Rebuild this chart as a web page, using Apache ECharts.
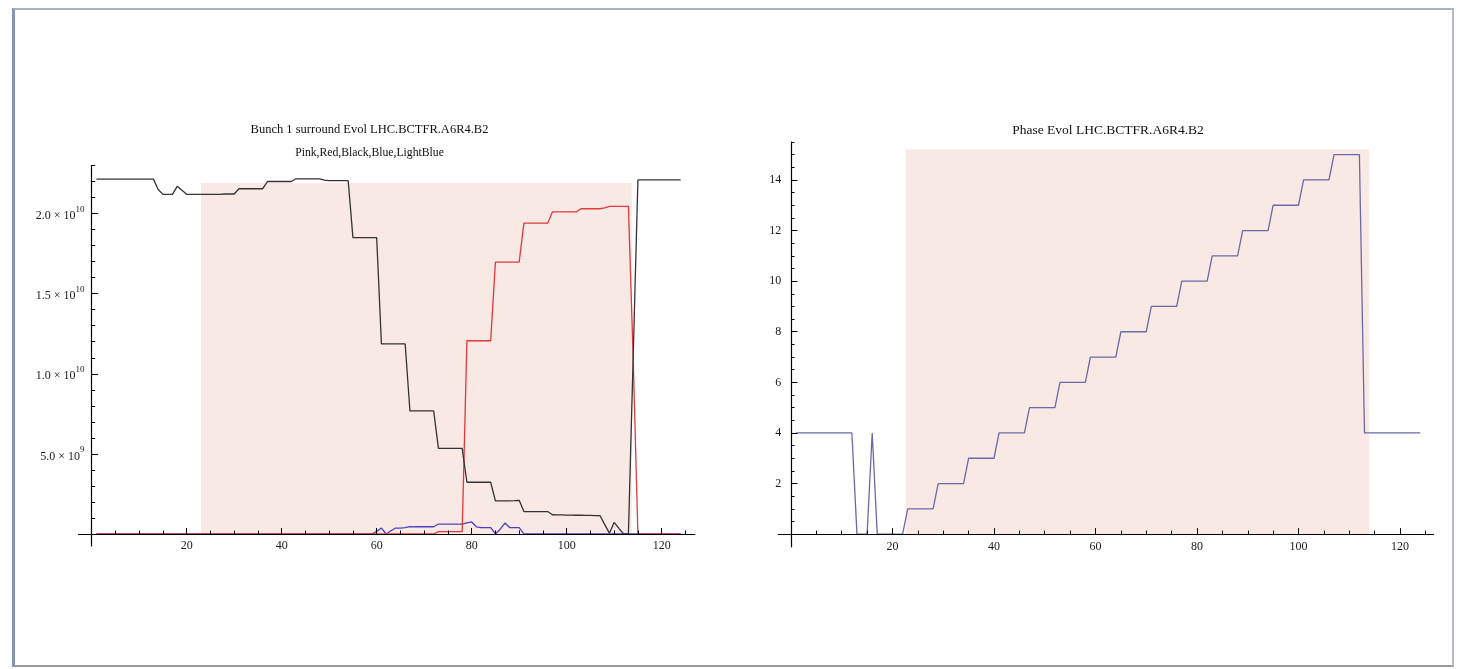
<!DOCTYPE html>
<html>
<head>
<meta charset="utf-8">
<script src="https://cdn.jsdelivr.net/npm/echarts@6/dist/echarts.min.js"></script>
<style>
  html, body { margin: 0; padding: 0; background: #fff; }
  #frame {
    position: absolute; left: 12px; top: 8px; width: 1437px; height: 655px;
    border-left: 3px solid #8594b3; border-top: 2px solid #a8b0c4;
    border-right: 2px solid #b7bbc7; border-bottom: 2px solid #9a9a9a;
  }
  #chart { position: absolute; left: 0; top: 0; width: 1457px; height: 669px; }
</style>
</head>
<body>
<div id="frame"></div>
<div id="chart"></div>
<script>
// sample index (1..124) shared by both panels
const steps = Array.from({ length: 124 }, (_, i) => i + 1);

// left panel, values in units of 1e9
const black = [
  22.15, 22.15, 22.15, 22.15, 22.15, 22.15, 22.15, 22.15, 22.15, 22.15, 22.15, 22.15, 22.15,
  21.5, 21.2, 21.2, 21.2, 21.7, 21.45, 21.2,
  21.2, 21.2, 21.2, 21.2, 21.2, 21.2, 21.2, 21.22, 21.22, 21.22,
  21.55, 21.55, 21.55, 21.55, 21.55, 21.55,
  22.0, 22.0, 22.0, 22.0, 22.0, 22.0,
  22.17, 22.17, 22.17, 22.17, 22.17, 22.17,
  22.09, 22.05, 22.05, 22.05, 22.05, 22.05,
  18.5, 18.5, 18.5, 18.5, 18.5, 18.5,
  11.86, 11.86, 11.86, 11.86, 11.86, 11.86,
  7.68, 7.68, 7.68, 7.68, 7.68, 7.68,
  5.34, 5.34, 5.34, 5.34, 5.34, 5.34,
  3.23, 3.23, 3.23, 3.23, 3.23, 3.23,
  2.07, 2.07, 2.07, 2.07, 2.08, 2.1,
  1.4, 1.4, 1.4, 1.4, 1.4, 1.4,
  1.2, 1.19, 1.19, 1.18, 1.18, 1.17, 1.17, 1.16, 1.16, 1.15, 1.15,
  0.6, 0.05, 0.72, 0.35, 0, 0,
  11,
  22.1, 22.1, 22.1, 22.1, 22.1, 22.1, 22.1, 22.1, 22.1, 22.1
];
const red = [
  0, 0, 0, 0, 0, 0, 0, 0, 0, 0, 0, 0, 0, 0, 0, 0, 0, 0, 0, 0, 0, 0, 0, 0,
  0, 0, 0, 0, 0, 0, 0, 0, 0, 0, 0, 0, 0, 0, 0, 0, 0, 0, 0, 0, 0, 0, 0, 0,
  0, 0, 0, 0, 0, 0, 0, 0, 0, 0, 0, 0, 0, 0, 0, 0, 0, 0, 0, 0, 0, 0, 0, 0,
  0.15, 0.15, 0.15, 0.15, 0.15, 0.15,
  12.06, 12.06, 12.06, 12.06, 12.06, 12.06,
  16.97, 16.97, 16.97, 16.97, 16.97, 16.97,
  19.4, 19.4, 19.4, 19.4, 19.4, 19.4,
  20.1, 20.1, 20.1, 20.1, 20.1, 20.1,
  20.3, 20.3, 20.3, 20.3, 20.3,
  20.35,
  20.45, 20.45, 20.45, 20.45, 20.45,
  11,
  0, 0, 0, 0, 0, 0, 0, 0, 0, 0
];
const blue = [
  0, 0, 0, 0, 0, 0, 0, 0, 0, 0, 0, 0, 0, 0, 0, 0, 0, 0, 0, 0,
  0, 0, 0, 0, 0, 0, 0, 0, 0, 0, 0, 0, 0, 0, 0, 0, 0, 0, 0, 0,
  0, 0, 0, 0, 0, 0, 0, 0, 0, 0, 0, 0, 0, 0, 0, 0, 0, 0, 0,
  0.16, 0.37, 0, 0.2, 0.37, 0.37, 0.4, 0.46,
  0.45, 0.45, 0.45, 0.45, 0.45,
  0.62, 0.62, 0.62, 0.62, 0.62, 0.62,
  0.7, 0.75, 0.45,
  0.4, 0.4, 0.4,
  0, 0.3, 0.68, 0.4, 0.4, 0.4, 0,
  0, 0, 0, 0, 0, 0, 0, 0, 0, 0, 0, 0, 0, 0, 0, 0, 0,
  0, 0, 0, 0, 0, 0, 0, 0, 0, 0, 0, 0, 0, 0, 0, 0
];

// right panel
const phase = [
  4, 4, 4, 4, 4, 4, 4, 4, 4, 4, 4, 4,
  0, 0, 0, 4, 0, 0, 0, 0, 0, 0,
  1, 1, 1, 1, 1, 1, 2, 2, 2, 2, 2, 2, 3, 3, 3, 3, 3, 3,
  4, 4, 4, 4, 4, 4, 5, 5, 5, 5, 5, 5, 6, 6, 6, 6, 6, 6,
  7, 7, 7, 7, 7, 7, 8, 8, 8, 8, 8, 8, 9, 9, 9, 9, 9, 9,
  10, 10, 10, 10, 10, 10, 11, 11, 11, 11, 11, 11, 12, 12, 12, 12, 12, 12,
  13, 13, 13, 13, 13, 13, 14, 14, 14, 14, 14, 14, 15, 15, 15, 15, 15, 15,
  4, 4, 4, 4, 4, 4, 4, 4, 4, 4, 4, 4
];

// shaded windows: [x from, x to, y top]
const shadeLeft = [23, 113.7, 21.9];
const shadeRight = [22.6, 113.9, 15.2];

// ticks
const xMajor = [20, 40, 60, 80, 100, 120];
const xMinor = [5, 10, 15, 25, 30, 35, 45, 50, 55, 65, 70, 75, 85, 90, 95, 105, 110, 115, 125];
const leftYMajor = [5, 10, 15, 20];
const leftYMant = ['5.0', '1.0', '1.5', '2.0'];
const leftYExp = ['9', '10', '10', '10'];
const leftYMinor = [1, 2, 3, 4, 6, 7, 8, 9, 11, 12, 13, 14, 16, 17, 18, 19, 21, 22, 23];
const rightYMajor = [2, 4, 6, 8, 10, 12, 14];
const rightYMinor = [0.5, 1, 1.5, 2.5, 3, 3.5, 4.5, 5, 5.5, 6.5, 7, 7.5, 8.5, 9, 9.5,
  10.5, 11, 11.5, 12.5, 13, 13.5, 14.5, 15, 15.5];

const SERIF = '"Liberation Serif", "DejaVu Serif", serif';

const chart = echarts.init(document.getElementById('chart'));

// labels are laid out from the grid edge, so margins are negative to sit next to the zero line
function xAxes(grid, min, max, labelMargin) {
  const base = {
    type: 'value', gridIndex: grid, min: min, max: max, position: 'bottom', z: 5,
    splitLine: { show: false }
  };
  return [
    Object.assign({}, base, {
      axisLine: { lineStyle: { color: '#000', width: 1.2 } },
      axisTick: { inside: true, length: 6, customValues: xMajor, lineStyle: { color: '#000' } },
      axisLabel: { customValues: xMajor, margin: labelMargin, color: '#1a1a1a', fontFamily: SERIF, fontSize: 12 }
    }),
    Object.assign({}, base, {
      axisLine: { show: false },
      axisTick: { inside: true, length: 3.5, customValues: xMinor, lineStyle: { color: '#000' } },
      axisLabel: { show: false }
    })
  ];
}

function yAxes(grid, min, max, major, minor, labelMargin, fmt) {
  const base = {
    type: 'value', gridIndex: grid, min: min, max: max, position: 'left', z: 5,
    splitLine: { show: false }
  };
  return [
    Object.assign({}, base, {
      axisLine: { lineStyle: { color: '#000', width: 1.2 } },
      axisTick: { inside: true, length: 6.5, customValues: major, lineStyle: { color: '#000' } },
      axisLabel: Object.assign({ customValues: major, margin: labelMargin, color: '#1a1a1a', fontFamily: SERIF, fontSize: 12 }, fmt)
    }),
    Object.assign({}, base, {
      axisLine: { show: false },
      axisTick: { inside: true, length: 3.5, customValues: minor, lineStyle: { color: '#000' } },
      axisLabel: { show: false }
    })
  ];
}

const sciLabel = {
  formatter: function (v) {
    const i = leftYMajor.indexOf(v);
    if (i < 0) return '';
    return '{b|' + leftYMant[i] + ' × 10}{s|' + leftYExp[i] + '}';
  },
  rich: {
    b: { fontFamily: SERIF, fontSize: 12, color: '#1a1a1a', lineHeight: 17, verticalAlign: 'bottom' },
    s: { fontFamily: SERIF, fontSize: 9, color: '#1a1a1a', lineHeight: 11, verticalAlign: 'top' }
  }
};

function shade(xi, yi, s) {
  return {
    type: 'line', xAxisIndex: xi, yAxisIndex: yi, z: 1, silent: true,
    data: [[s[0], 0]], showSymbol: false, lineStyle: { opacity: 0 },
    markArea: {
      silent: true,
      itemStyle: { color: '#f8e9e4', opacity: 1 },
      data: [[{ coord: [s[0], 0] }, { coord: [s[1], s[2]] }]]
    }
  };
}

function line(xi, yi, vals, color) {
  return {
    type: 'line', xAxisIndex: xi, yAxisIndex: yi, z: 3, silent: true,
    showSymbol: false, symbol: 'none',
    lineStyle: { color: color, width: 1.3 },
    data: steps.map((x, i) => [x, vals[i]])
  };
}

chart.setOption({
  animation: false,
  backgroundColor: 'transparent',
  grid: [
    { left: 78.4, top: 165.5, width: 616.5, height: 380.5 },
    { left: 778.3, top: 142, width: 655.2, height: 404.8 }
  ],
  xAxis: xAxes(0, -2.8, 127, -6).concat(xAxes(1, -2.5, 126.6, -6)),
  yAxis: yAxes(0, -0.75, 23, leftYMajor, leftYMinor, -6, sciLabel)
    .concat(yAxes(1, -0.5, 15.5, rightYMajor, rightYMinor, -3, {})),
  graphic: [
    { type: 'text', x: 369.5, y: 130, style: { text: 'Bunch 1 surround Evol LHC.BCTFR.A6R4.B2', fontFamily: SERIF, fontSize: 12.5, fill: '#111', align: 'center', verticalAlign: 'middle' } },
    { type: 'text', x: 369.5, y: 153, style: { text: 'Pink,Red,Black,Blue,LightBlue', fontFamily: SERIF, fontSize: 11.7, fill: '#111', align: 'center', verticalAlign: 'middle' } },
    { type: 'text', x: 1108, y: 130.5, style: { text: 'Phase Evol LHC.BCTFR.A6R4.B2', fontFamily: SERIF, fontSize: 13.5, fill: '#111', align: 'center', verticalAlign: 'middle' } }
  ],
  series: [
    shade(0, 0, shadeLeft),
    line(0, 0, blue, '#4b3fc4'),
    line(0, 0, red, '#dc3a3c'),
    line(0, 0, black, '#333333'),
    shade(2, 2, shadeRight),
    line(2, 2, phase, '#6a6aa6')
  ]
});
</script>
</body>
</html>
